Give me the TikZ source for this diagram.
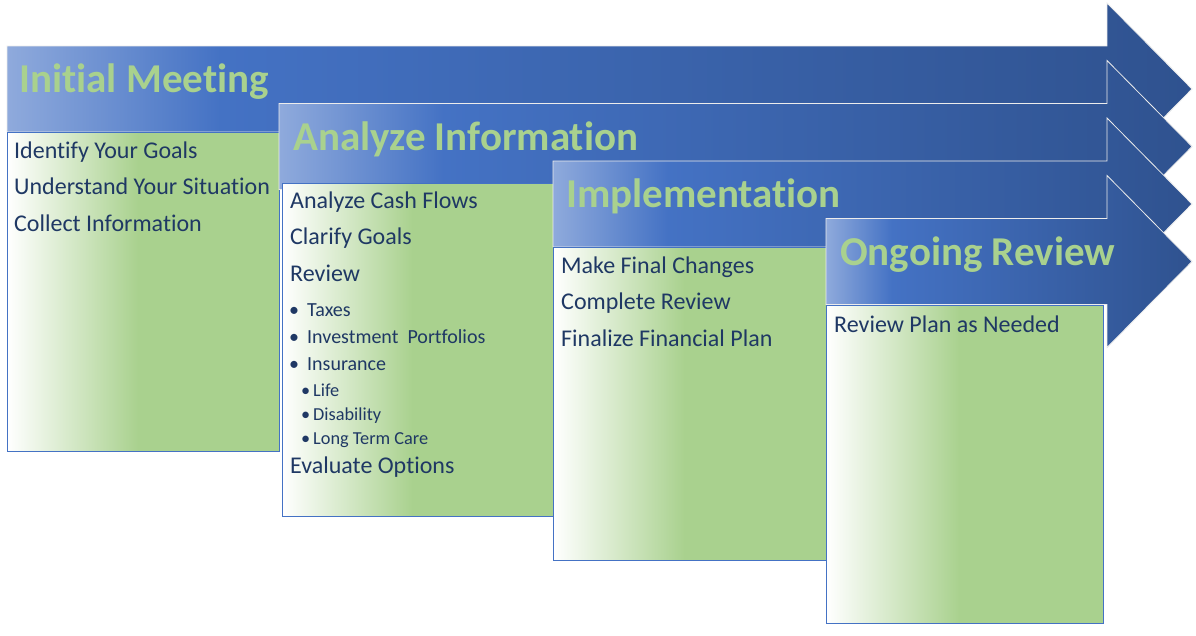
\documentclass[tikz,border=0pt]{standalone}
\usepackage{fontspec}
\setmainfont{Carlito}[Ligatures={NoCommon}]

\definecolor{hdrgreen}{HTML}{A9D18E}
\definecolor{navy}{HTML}{1F3864}
\definecolor{arrlight}{HTML}{8FAADC}
\definecolor{arrmid}{HTML}{4472C4}
\definecolor{arrdark}{HTML}{2F528F}
\definecolor{boxgreen}{HTML}{A9D18E}
\definecolor{boxedge}{HTML}{4472C4}

% light blue -> medium blue -> dark blue along each process arrow
\pgfdeclarehorizontalshading{arrowfade}{100bp}{color(0bp)=(arrlight); color(25bp)=(arrlight); color(34bp)=(arrmid); color(75bp)=(arrdark); color(100bp)=(arrdark)}
% white -> green across each step box
\pgfdeclarehorizontalshading{boxfade}{100bp}{color(0bp)=(white); color(25bp)=(white); color(49bp)=(boxgreen); color(100bp)=(boxgreen)}

% process arrow: #1 = left edge, #2 = centre line
\newcommand\procarrow[2]{%
  \path[arrowstyle] (#1,#2-43) -- (1107,#2-43) -- (1107,#2-86) -- (1192,#2)
    -- (1107,#2+86) -- (1107,#2+43) -- (#1,#2+43) -- cycle;}

\tikzset{
  arrowstyle/.style={shading=arrowfade, draw=white!85!gray, line width=0.8pt, line join=miter},
  stagebox/.style={rectangle, anchor=north west, inner sep=0pt, shading=boxfade, draw=boxedge, line width=0.9pt},
  header/.style={anchor=base west, inner sep=0pt, text=hdrgreen, font=\fontsize{41}{48}\selectfont\bfseries},
  item/.style={anchor=base west, inner sep=0pt, text=navy, font=\fontsize{24}{28}\selectfont},
  subitem/.style={anchor=base west, inner sep=0pt, text=navy, font=\fontsize{20}{24}\selectfont},
  subsubitem/.style={anchor=base west, inner sep=0pt, text=navy, font=\fontsize{18.3}{22}\selectfont},
}

\begin{document}
\begin{tikzpicture}[x=1pt, y=-1pt]
\useasboundingbox[fill=white] (0,0) rectangle (1196,635);

% stage 1
\procarrow{7}{89}
\node[stagebox, minimum width=272pt, minimum height=319pt] (box1) at (7,132) {};
\node[header] (h1) at (19,92.5) {Initial Meeting};
\node[item] (a1) at (14,158) {Identify Your Goals};
\node[item] (a2) at (14,194.5) {Understand Your Situation};
\node[item] (a3) at (14,231) {Collect Information};

% stage 2
\procarrow{279}{146.5}
\node[stagebox, minimum width=271pt, minimum height=333pt] (box2) at (282,183) {};
\node[header] (h2) at (293,150) {Analyze Information};
\node[item] (b1) at (290,208) {Analyze Cash Flows};
\node[item] (b2) at (290,244.5) {Clarify Goals};
\node[item] (b3) at (290,281) {Review};
\node[subitem] (b4d) at (289,316.7) {•};
\node[subitem] (b4) at (307,316.7) {Taxes};
\node[subitem] (b5d) at (289,343.5) {•};
\node[subitem] (b5) at (307,343.5) {Investment\ \ Portfolios};
\node[subitem] (b6d) at (289,370.5) {•};
\node[subitem] (b6) at (307,370.5) {Insurance};
\node[subsubitem] (b7d) at (301,396) {•};
\node[subsubitem] (b7) at (313,396) {Life};
\node[subsubitem] (b8d) at (301,420) {•};
\node[subsubitem] (b8) at (313,420) {Disability};
\node[subsubitem] (b9d) at (301,444) {•};
\node[subsubitem] (b9) at (313,444) {Long Term Care};
\node[item] (b10) at (290,473) {Evaluate Options};

% stage 3
\procarrow{553}{204}
\node[stagebox, minimum width=273pt, minimum height=313pt] (box3) at (553,247) {};
\node[header] (h3) at (566,207.5) {Implementation};
\node[item] (c1) at (561,273.3) {Make Final Changes};
\node[item] (c2) at (561,309.8) {Complete Review};
\node[item] (c3) at (561,346.3) {Finalize Financial Plan};

% stage 4
\procarrow{826}{261.5}
\node[stagebox, minimum width=277pt, minimum height=318pt] (box4) at (826,305) {};
\node[header] (h4) at (840,265) {Ongoing Review};
\node[item] (d1) at (834,332.7) {Review Plan as Needed};
\end{tikzpicture}
\end{document}
